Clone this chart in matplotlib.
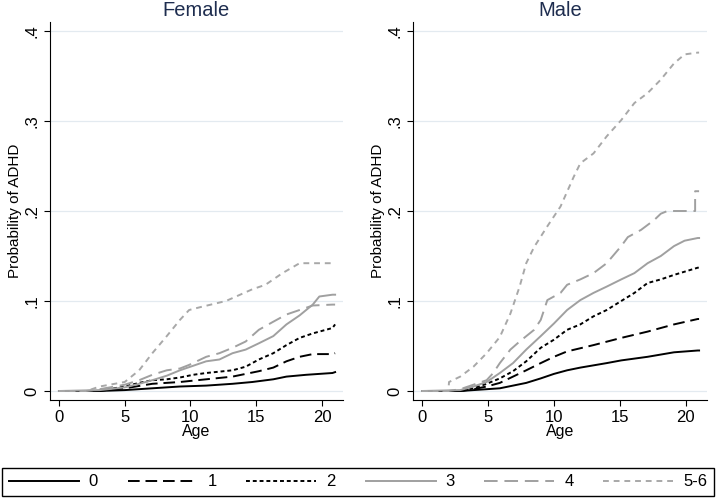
import matplotlib
matplotlib.use('Agg')
from matplotlib import pyplot as plt

plt.rcParams['font.family'] = ['Liberation Sans', 'DejaVu Sans']

groups = ['0', '1', '2', '3', '4', '5-6']
colors = ['black', 'black', 'black', '#a0a0a0', '#a0a0a0', '#a8a8a8']
dashes = [None, (6, 3), (2, 1.5), None, (7, 3.5), (3, 2.5)]

# Female curves: (ages, probabilities)
female_age = {
    '0': [0, 3.0, 5.0, 7.1, 9.2, 11.2, 13.2, 14.7, 16.3, 17.3, 18.8, 20.8, 21],
    '1': [0, 3.0, 5.0, 7.1, 9.2, 11.2, 13.2, 15.2, 16.3, 17.3, 18.3, 19.3, 20.8, 21],
    '2': [0, 3.0, 5.0, 6.1, 7.1, 8.2, 9.2, 10.2, 11.2, 13.2, 14.2, 15.2, 16.3, 17.3, 18.3, 19.3, 20.3, 20.8, 21],
    '3': [0, 3.1, 5.0, 6.1, 7.1, 8.2, 9.2, 10.2, 11.2, 12.2, 13.2, 14.2, 15.2, 16.3, 17.3, 18.3, 19.3, 19.8, 20.8, 21],
    '4': [0, 2.1, 3.1, 5.0, 6.1, 7.1, 8.2, 9.2, 9.9, 11.2, 12.2, 13.2, 14.2, 15.2, 16.3, 17.3, 18.3, 19.3, 20.8, 21],
    '5-6': [0, 2.1, 3.1, 5.0, 6.1, 7.1, 8.2, 9.2, 9.9, 10.7, 12.7, 14.7, 15.7, 17.0, 18.3, 20.8, 21],
}
female_p = {
    '0': [0, 0, 0.001, 0.003, 0.005, 0.006, 0.008, 0.010, 0.013, 0.016, 0.018, 0.020, 0.021],
    '1': [0, 0, 0.003, 0.008, 0.010, 0.013, 0.016, 0.022, 0.026, 0.033, 0.038, 0.041, 0.041, 0.042],
    '2': [0, 0, 0.005, 0.009, 0.012, 0.013, 0.015, 0.018, 0.020, 0.023, 0.027, 0.035, 0.042, 0.051, 0.059, 0.064, 0.068, 0.070, 0.074],
    '3': [0, 0.001, 0.004, 0.008, 0.012, 0.017, 0.023, 0.028, 0.033, 0.035, 0.042, 0.046, 0.053, 0.061, 0.074, 0.084, 0.096, 0.105, 0.107, 0.107],
    '4': [0, 0, 0.002, 0.007, 0.012, 0.018, 0.023, 0.025, 0.029, 0.038, 0.042, 0.048, 0.055, 0.068, 0.077, 0.085, 0.090, 0.095, 0.096, 0.096],
    '5-6': [0, 0, 0.005, 0.010, 0.023, 0.042, 0.061, 0.079, 0.090, 0.093, 0.100, 0.113, 0.118, 0.131, 0.142, 0.142, 0.142],
}

# Male curves
male_age = {
    '0': [0, 2.9, 4.9, 5.9, 6.9, 7.9, 9.0, 10.0, 11.0, 12.0, 14.0, 15.1, 17.1, 19.1, 20.9, 21],
    '1': [0, 2.9, 3.9, 4.9, 5.9, 6.9, 7.9, 9.0, 10.0, 11.0, 13.0, 15.1, 17.1, 19.1, 20.9, 21],
    '2': [0, 2.9, 3.9, 4.9, 5.9, 6.9, 7.9, 9.0, 10.0, 11.0, 12.0, 13.0, 14.0, 15.1, 16.1, 17.1, 18.1, 19.1, 20.9, 21],
    '3': [0, 2.9, 3.9, 4.9, 5.9, 6.9, 7.9, 9.0, 10.0, 11.0, 12.0, 13.0, 14.0, 15.1, 16.1, 17.1, 18.1, 19.1, 19.9, 20.9, 21],
    '4': [0, 2.0, 2.9, 3.9, 4.9, 5.4, 5.9, 6.7, 7.4, 8.5, 9.0, 9.5, 10.5, 11.0, 12.0, 13.0, 14.0, 15.1, 15.6, 16.6, 17.6, 18.1, 18.6, 20.7, 20.7, 21],
    '5-6': [0, 2.0, 2.05, 2.9, 3.9, 4.9, 5.9, 6.7, 7.4, 7.9, 8.5, 9.5, 10.5, 11.5, 12.0, 13.0, 14.0, 15.1, 16.1, 17.1, 18.1, 19.1, 19.9, 20.9, 21],
}
male_p = {
    '0': [0, 0, 0.002, 0.003, 0.006, 0.009, 0.014, 0.019, 0.023, 0.026, 0.031, 0.034, 0.038, 0.043, 0.045, 0.045],
    '1': [0, 0, 0.002, 0.005, 0.009, 0.016, 0.023, 0.031, 0.038, 0.044, 0.051, 0.059, 0.066, 0.074, 0.080, 0.080],
    '2': [0, 0, 0.003, 0.008, 0.014, 0.022, 0.033, 0.048, 0.057, 0.068, 0.074, 0.083, 0.090, 0.100, 0.109, 0.120, 0.124, 0.129, 0.137, 0.137],
    '3': [0, 0.001, 0.005, 0.010, 0.020, 0.031, 0.046, 0.061, 0.075, 0.090, 0.101, 0.109, 0.116, 0.124, 0.131, 0.142, 0.150, 0.161, 0.167, 0.170, 0.170],
    '4': [0, 0, 0.002, 0.007, 0.012, 0.020, 0.031, 0.046, 0.055, 0.068, 0.079, 0.101, 0.109, 0.118, 0.124, 0.131, 0.142, 0.161, 0.171, 0.179, 0.190, 0.197, 0.200, 0.200, 0.222, 0.222],
    '5-6': [0, 0, 0.010, 0.016, 0.027, 0.042, 0.060, 0.086, 0.116, 0.142, 0.160, 0.183, 0.205, 0.238, 0.253, 0.264, 0.283, 0.301, 0.320, 0.331, 0.346, 0.364, 0.374, 0.376, 0.376],
}

fig = plt.figure(figsize=(7.16, 4.99), dpi=100)
ax1 = fig.add_axes([50 / 716, 99 / 499, 293 / 716, 378 / 499])
ax2 = fig.add_axes([413 / 716, 99 / 499, 294 / 716, 378 / 499])

lines = []
for ax, title, ages, probs in [(ax1, 'Female', female_age, female_p),
                                (ax2, 'Male', male_age, male_p)]:
    for g, c, d in zip(groups, colors, dashes):
        ln, = ax.plot(ages[g], probs[g], color=c, lw=1.4)
        if d is not None:
            ln.set_dashes(d)
        if ax is ax1:
            lines.append(ln)
    ax.set_xlim(-0.68, 21.6)
    ax.set_ylim(-0.01, 0.41)
    ax.set_xticks([0, 5, 10, 15, 20])
    ax.set_yticks([0, 0.1, 0.2, 0.3, 0.4])
    ax.set_yticklabels(['0', '.1', '.2', '.3', '.4'], rotation=90, va='center')
    ax.tick_params(labelsize=12, length=4, width=0.8)
    ax.grid(axis='y', color='#e3eaf0', lw=0.9)
    ax.set_axisbelow(True)
    for s in ['top', 'right']:
        ax.spines[s].set_visible(False)
    ax.set_xlabel('Age', fontsize=11.5, labelpad=-1)
    ax.set_ylabel('Probability of ADHD', fontsize=11, labelpad=2)
    ax.text(0.5, 1.0 + 6 / 378, title, transform=ax.transAxes,
            ha='center', va='baseline', fontsize=14.5, color='#1e2d4f')

fig.legend(lines, groups, loc='lower left', ncol=6, mode='expand',
           bbox_to_anchor=(2 / 716, 3 / 499, 712 / 716, 33 / 499),
           fancybox=False, edgecolor='black', fontsize=12,
           handlelength=4.2, handletextpad=0.6, borderaxespad=0,
           framealpha=1)

plt.savefig('out.png', dpi=100)
